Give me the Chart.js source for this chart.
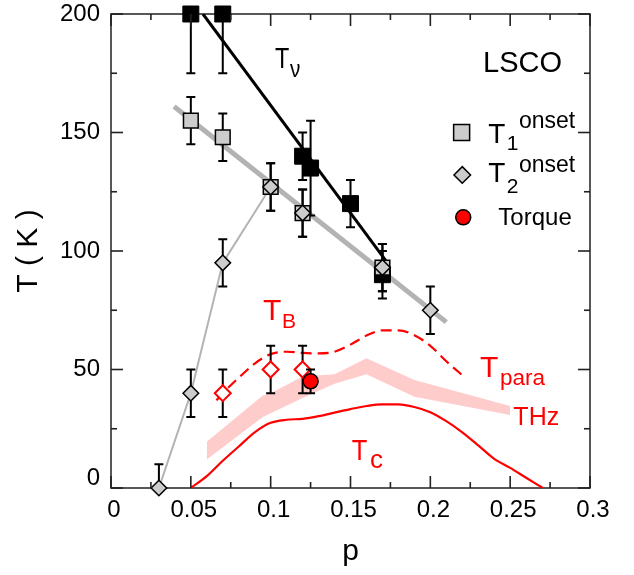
<!DOCTYPE html>
<html><head><meta charset="utf-8">
<script src="https://cdn.jsdelivr.net/npm/chart.js@4"></script>
<style>html,body{margin:0;padding:0;background:#fff}#wrap{width:634px;height:575px;position:relative}</style>
</head><body><div id="wrap"><canvas id="c"></canvas></div>
<script>
const FONT = "'Liberation Sans', Arial, Helvetica, sans-serif";

// ---- tick values / labels ----
const xTickValues = [0, 0.05, 0.1, 0.15, 0.2, 0.25, 0.3];
const xTickLabels = ['0', '0.05', '0.1', '0.15', '0.2', '0.25', '0.3'];
const yTickValues = [0, 50, 100, 150, 200];
const yTickLabels = ['0', '50', '100', '150', '200'];
const xMinorStep = 0.025;
const yMinorStep = 25;

// ---- T_nu (black squares) ----
const tnuP   = [0.05, 0.07, 0.12, 0.125, 0.15, 0.17];
const tnuT   = [200, 200, 140, 135, 120, 90];
const tnuErr = [25, 25, 10, 20, 10, 10];

// ---- T1 onset (grey squares) ----
const t1P   = [0.05, 0.07, 0.10, 0.12, 0.17];
const t1T   = [155, 148, 127, 116, 93];
const t1Err = [10, 10, 10, 10, 10];

// ---- T2 onset (grey diamonds) ----
const t2P   = [0.03, 0.05, 0.07, 0.10, 0.12, 0.17, 0.20];
const t2T   = [0, 40, 95, 127, 116, 93, 75];
const t2Err = [10, 10, 10, 10, 10, 10, 10];

// ---- T_B (open red diamonds) ----
const tbP   = [0.07, 0.10, 0.12];
const tbT   = [40, 50, 50];
const tbErr = [10, 10, 10];

// ---- Torque (red circle) ----
const torqueP   = [0.125];
const torqueT   = [45];
const torqueErr = [5];

// ---- fit / guide lines ----
const tnuFitP = [0.0576, 0.172];
const tnuFitT = [200, 96];
const t1FitP  = [0.0395, 0.21];
const t1FitT  = [161, 70];
const t2LineP = [0.03, 0.05, 0.07, 0.10];
const t2LineT = [0, 40, 95, 127];

// ---- Tc dome ----
const tcP = [0.05, 0.06, 0.07, 0.08, 0.09, 0.10, 0.11, 0.12, 0.13, 0.14, 0.15, 0.16, 0.17, 0.18, 0.19, 0.20, 0.21, 0.22, 0.23, 0.24, 0.25, 0.26, 0.2705];
const tcT = [0, 5, 11.5, 17.5, 23.5, 27.5, 28.8, 29.2, 30.3, 31.8, 33.3, 34.6, 35.3, 35.3, 34.2, 32, 28.2, 23.5, 18, 12.3, 8.5, 4.3, 0];

// ---- T_para (dashed) ----
const tparaP = [0.066, 0.07, 0.08, 0.09, 0.10, 0.11, 0.12, 0.13, 0.14, 0.15, 0.16, 0.17, 0.18, 0.19, 0.20, 0.21, 0.221];
const tparaT = [37, 40, 46.5, 52.5, 56.5, 57.5, 57, 56.8, 57.5, 60.5, 64.3, 66.5, 66.5, 64.5, 60, 53.5, 47];

// ---- THz band ----
const thzP    = [0.06, 0.095, 0.10, 0.12, 0.14, 0.16, 0.19, 0.25];
const thzHigh = [19.5, 39, 40, 47, 48, 54.7, 45.6, 34.6];
const thzLow  = [12, 30, 31.5, 38, 44, 48, 38.5, 30.8];

const pts = (xs, ys) => xs.map((x, i) => ({x: x, y: ys[i]}));

const RED = '#ff0000';
const GREY = '#cccccc';
const LGREY = '#b3b3b3';

const datasets = [
  {label:'THz high', data: pts(thzP, thzHigh), borderWidth:0, pointRadius:0, fill:'+1', backgroundColor:'#ffcccc', order:20},
  {label:'THz low', data: pts(thzP, thzLow), borderWidth:0, pointRadius:0, fill:false, order:21},
  {label:'Tc', data: pts(tcP, tcT), borderColor:RED, borderWidth:2.2, pointRadius:0, cubicInterpolationMode:'monotone', fill:false, order:18},
  {label:'Tpara', data: pts(tparaP, tparaT), borderColor:RED, borderWidth:2.2, borderDash:[11,6], pointRadius:0, cubicInterpolationMode:'monotone', fill:false, order:17},
  {label:'T2 line', data: pts(t2LineP, t2LineT), borderColor:LGREY, borderWidth:2, pointRadius:0, fill:false, order:16},
  {label:'T1 fit', data: pts(t1FitP, t1FitT), borderColor:LGREY, borderWidth:5, pointRadius:0, fill:false, order:15},
  {label:'Tnu fit', data: pts(tnuFitP, tnuFitT), borderColor:'#000', borderWidth:3, pointRadius:0, fill:false, order:14},
  {label:'Tnu', data: pts(tnuP, tnuT), err: tnuErr, showLine:false, pointStyle:'rect', pointRadius:11.3, backgroundColor:'#000', borderColor:'#000', borderWidth:1, clip:false, order:13},
  {label:'T1 onset', data: pts(t1P, t1T), err: t1Err, showLine:false, pointStyle:'rect', pointRadius:10.4, backgroundColor:GREY, borderColor:'#000', borderWidth:1.5, clip:false, order:12},
  {label:'T2 onset', data: pts(t2P, t2T), err: t2Err, showLine:false, pointStyle:'rectRot', pointRadius:7.8, backgroundColor:GREY, borderColor:'#000', borderWidth:1.5, clip:false, order:11},
  {label:'TB', data: pts(tbP, tbT), err: tbErr, showLine:false, pointStyle:'rectRot', pointRadius:8, backgroundColor:'#fff', borderColor:RED, borderWidth:2, clip:false, order:10},
  {label:'Torque', data: pts(torqueP, torqueT), err: torqueErr, showLine:false, pointStyle:'circle', pointRadius:7.5, backgroundColor:RED, borderColor:'#000', borderWidth:1.5, clip:false, order:9}
];

const errPlugin = {
  id: 'errbars',
  beforeDatasetDraw(chart, args) {
    const ds = chart.data.datasets[args.index];
    if (!ds.err) return;
    const ctx = chart.ctx, xs = chart.scales.x, ys = chart.scales.y;
    ctx.save();
    ctx.setLineDash([]);
    ctx.strokeStyle = '#000';
    ctx.lineWidth = 2;
    const cap = 4.5;
    ds.data.forEach((pt, i) => {
      const e = ds.err[i];
      const x = xs.getPixelForValue(pt.x);
      const hi = pt.y + e, lo = pt.y - e;
      const yHi = ys.getPixelForValue(Math.min(hi, ys.max));
      const yLo = ys.getPixelForValue(Math.max(lo, ys.min));
      ctx.beginPath();
      ctx.moveTo(x, yHi); ctx.lineTo(x, yLo);
      if (hi <= ys.max) { ctx.moveTo(x - cap, yHi); ctx.lineTo(x + cap, yHi); }
      if (lo >= ys.min) { ctx.moveTo(x - cap, yLo); ctx.lineTo(x + cap, yLo); }
      ctx.stroke();
    });
    ctx.restore();
  }
};

function drawBox(chart) {
  const ctx = chart.ctx, a = chart.chartArea;
  ctx.save();
  ctx.setLineDash([]);
  ctx.strokeStyle = '#222';
  ctx.lineWidth = 1.5;
  ctx.beginPath();
  ctx.rect(a.left, a.top, a.right - a.left, a.bottom - a.top);
  ctx.stroke();
  ctx.restore();
}

function drawTicks(chart) {
  const ctx = chart.ctx, a = chart.chartArea, xs = chart.scales.x, ys = chart.scales.y;
  ctx.save();
  ctx.fillStyle = '#222';
  const W = 1.6;
  const nx = Math.round((xs.max - xs.min) / xMinorStep);
  for (let k = 0; k <= nx; k++) {
    const L = (k % 2 === 0) ? 12 : 6;
    const x = xs.getPixelForValue(xs.min + k * xMinorStep);
    ctx.fillRect(x - W / 2, a.bottom - L, W, L);
    ctx.fillRect(x - W / 2, a.top, W, L);
  }
  const ny = Math.round((ys.max - ys.min) / yMinorStep);
  for (let k = 0; k <= ny; k++) {
    const L = (k % 2 === 0) ? 12 : 6;
    const y = ys.getPixelForValue(ys.min + k * yMinorStep);
    ctx.fillRect(a.left, y - W / 2, L, W);
    ctx.fillRect(a.right - L, y - W / 2, L, W);
  }
  ctx.restore();
}

function txt(ctx, s, x, y, size, color, sx) {
  ctx.save();
  ctx.font = size + 'px ' + FONT;
  ctx.fillStyle = color;
  ctx.textAlign = 'left';
  ctx.textBaseline = 'alphabetic';
  ctx.translate(x, y);
  ctx.scale(sx || 1, 1);
  ctx.fillText(s, 0, 0);
  ctx.restore();
}

const framePlugin = {
  id: 'frame',
  beforeDatasetsDraw(chart) { drawBox(chart); }
};

const labelPlugin = {
  id: 'labels',
  afterDraw(chart) {
    drawTicks(chart);
    const ctx = chart.ctx, xs = chart.scales.x, ys = chart.scales.y;
    const X = v => xs.getPixelForValue(v), Y = v => ys.getPixelForValue(v);
    // annotations
    txt(ctx, 'T', X(0.1027), Y(177.1), 30, '#000', 0.78);
    txt(ctx, 'ν', X(0.1121), Y(173.5), 23, '#000', 0.9);
    txt(ctx, 'LSCO', X(0.233), Y(175.7), 29, '#000');
    txt(ctx, 'T', X(0.0952), Y(70.9), 30, RED);
    txt(ctx, 'B', X(0.1071), Y(67.5), 21, RED);
    txt(ctx, 'T', X(0.2311), Y(47.0), 30, RED);
    txt(ctx, 'para', X(0.2436), Y(43.5), 22.5, RED);
    txt(ctx, 'THz', X(0.252), Y(26.6), 25, RED);
    txt(ctx, 'T', X(0.1508), Y(11.8), 30, RED, 0.85);
    txt(ctx, 'c', X(0.1622), Y(8.4), 26, RED);
    // legend text
    txt(ctx, 'T', X(0.2363), Y(145.7), 28, '#000');
    txt(ctx, '1', X(0.2478), Y(142.6), 21, '#000');
    txt(ctx, 'onset', X(0.2555), Y(151.8), 23, '#000');
    txt(ctx, 'T', X(0.2363), Y(129.2), 28, '#000');
    txt(ctx, '2', X(0.2478), Y(124.3), 21, '#000');
    txt(ctx, 'onset', X(0.2555), Y(133.5), 23, '#000');
    txt(ctx, 'Torque', X(0.2426), Y(111.0), 24, '#000');
    // legend symbols
    ctx.save();
    ctx.setLineDash([]);
    ctx.lineWidth = 1.5; ctx.strokeStyle = '#000';
    let cx = X(0.2196), cy = Y(150.0), h = 8;
    ctx.fillStyle = GREY;
    ctx.fillRect(cx - h, cy - h, 2 * h, 2 * h);
    ctx.strokeRect(cx - h, cy - h, 2 * h, 2 * h);
    cx = X(0.22); cy = Y(132.1); h = 8.3;
    ctx.beginPath();
    ctx.moveTo(cx - h, cy); ctx.lineTo(cx, cy - h); ctx.lineTo(cx + h, cy); ctx.lineTo(cx, cy + h); ctx.closePath();
    ctx.fill(); ctx.stroke();
    cx = X(0.2206); cy = Y(114.2);
    ctx.fillStyle = RED;
    ctx.beginPath(); ctx.arc(cx, cy, 7.5, 0, Math.PI * 2); ctx.fill(); ctx.stroke();
    ctx.restore();
  }
};

new Chart(document.getElementById('c'), {
  type: 'line',
  data: { datasets: datasets },
  plugins: [errPlugin, framePlugin, labelPlugin],
  options: {
    responsive: true,
    maintainAspectRatio: false,
    animation: false,
    events: [],
    layout: { padding: { top: 14, right: 44, left: 0, bottom: 0 } },
    plugins: { legend: { display: false }, tooltip: { enabled: false } },
    scales: {
      x: {
        type: 'linear', min: 0, max: 0.3,
        grid: { display: false, drawTicks: false },
        border: { display: false },
        afterBuildTicks: s => { s.ticks = xTickValues.map(v => ({ value: v })); },
        afterFit: s => { s.height = 87; s.paddingLeft = 0; s.paddingRight = 0; s.paddingTop = 0; s.paddingBottom = 0; },
        ticks: {
          autoSkip: false, maxRotation: 0, padding: 8, labelOffset: 3,
          color: '#000', font: { family: FONT, size: 24 },
          callback: (v, i) => xTickLabels[i]
        },
        title: { display: true, text: 'p', color: '#000', font: { family: FONT, size: 30 }, padding: { top: 0, bottom: 5 } }
      },
      y: {
        type: 'linear', min: 0, max: 200,
        grid: { display: false, drawTicks: false },
        border: { display: false },
        afterBuildTicks: s => { s.ticks = yTickValues.map(v => ({ value: v })); },
        afterFit: s => { s.width = 111; s.paddingLeft = 0; s.paddingRight = 0; s.paddingTop = 0; s.paddingBottom = 0; },
        ticks: {
          autoSkip: false, padding: 11,
          color: '#000',
          font: c => (c.index === 0 ? { family: FONT, size: 24, lineHeight: 0.84 } : { family: FONT, size: 24 }),
          callback: (v, i) => (i === 0 ? [yTickLabels[i], ''] : yTickLabels[i])
        },
        title: { display: true, text: 'T ( K )', color: '#000', font: { family: FONT, size: 30 }, padding: { top: 11, bottom: 0 } }
      }
    }
  }
});
</script>
</body></html>
